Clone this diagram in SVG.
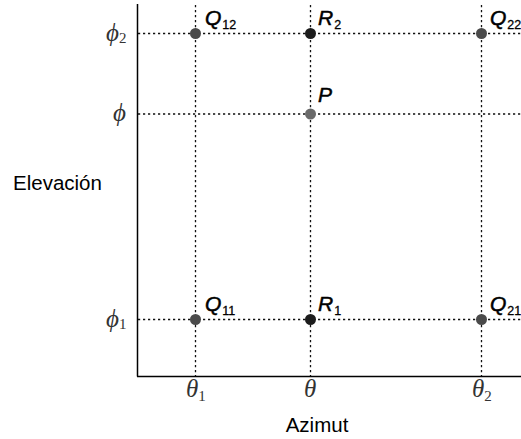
<svg xmlns="http://www.w3.org/2000/svg" width="521" height="439" viewBox="0 0 521 439">
<style>
.grid{stroke:#111;stroke-width:1.3;stroke-dasharray:2.2,2.8;fill:none}
.axis{stroke:#000;stroke-width:1.5;fill:none}
.math{font-family:"Liberation Serif","DejaVu Serif",serif;font-style:italic;font-size:25px;fill:#333}
.sub{font-family:"Liberation Serif","DejaVu Serif",serif;font-style:normal;font-size:15px;fill:#333}
.lbl{font-family:"Liberation Sans",Arial,sans-serif;font-style:italic;font-size:21px;fill:#000;stroke:#000;stroke-width:0.5}
.lsub{font-family:"Liberation Sans",Arial,sans-serif;font-style:normal;font-size:12.5px;stroke-width:0.3}
.title{font-family:"Liberation Sans",Arial,sans-serif;font-size:20.5px;fill:#000}
.q{fill:#4a4a4a}
.r{fill:#1c1c1c}
.p{fill:#6a6a6a}
</style>
<rect width="521" height="439" fill="#fff"/>
<g id="connectors">
<line class="grid" x1="138" y1="33.5" x2="521" y2="33.5"/>
<line class="grid" x1="138" y1="114" x2="521" y2="114"/>
<line class="grid" x1="138" y1="319.5" x2="521" y2="319.5"/>
<line class="grid" x1="195.5" y1="5" x2="195.5" y2="376"/>
<line class="grid" x1="310.5" y1="5" x2="310.5" y2="376"/>
<line class="grid" x1="481.5" y1="5" x2="481.5" y2="376"/>
</g>
<g id="axes">
<line class="axis" x1="137.5" y1="4" x2="137.5" y2="376.5"/>
<line class="axis" x1="137" y1="376.5" x2="521" y2="376.5"/>
</g>
<g id="ticks">
<text class="math" x="106" y="41">ϕ<tspan class="sub" dy="2">2</tspan></text>
<text class="math" x="113" y="121">ϕ</text>
<text class="math" x="106" y="327">ϕ<tspan class="sub" dy="2">1</tspan></text>
<text class="math" x="186" y="397">θ<tspan class="sub" dy="4">1</tspan></text>
<text class="math" x="304" y="397">θ</text>
<text class="math" x="472" y="397">θ<tspan class="sub" dy="4">2</tspan></text>
</g>
<g id="Q12"><circle class="q" cx="195.5" cy="33.5" r="5.5"/><text class="lbl" x="205" y="25">Q<tspan class="lsub" dy="4" dx="1">12</tspan></text></g>
<g id="R2"><circle class="r" cx="310.5" cy="33.5" r="5.5"/><text class="lbl" x="318" y="25">R<tspan class="lsub" dy="4" dx="1">2</tspan></text></g>
<g id="Q22"><circle class="q" cx="481.5" cy="33.5" r="5.5"/><text class="lbl" x="490" y="25">Q<tspan class="lsub" dy="4" dx="1">22</tspan></text></g>
<g id="P"><circle class="p" cx="310.5" cy="114" r="5.5"/><text class="lbl" x="318" y="102">P</text></g>
<g id="Q11"><circle class="q" cx="195.5" cy="319.5" r="5.5"/><text class="lbl" x="205" y="311">Q<tspan class="lsub" dy="4" dx="1">11</tspan></text></g>
<g id="R1"><circle class="r" cx="310.5" cy="319.5" r="5.5"/><text class="lbl" x="318" y="311">R<tspan class="lsub" dy="4" dx="1">1</tspan></text></g>
<g id="Q21"><circle class="q" cx="481.5" cy="319.5" r="5.5"/><text class="lbl" x="490" y="311">Q<tspan class="lsub" dy="4" dx="1">21</tspan></text></g>
<g id="labels">
<text class="title" x="13" y="190">Elevación</text>
<text class="title" x="317" y="432" text-anchor="middle">Azimut</text>
</g>
</svg>
